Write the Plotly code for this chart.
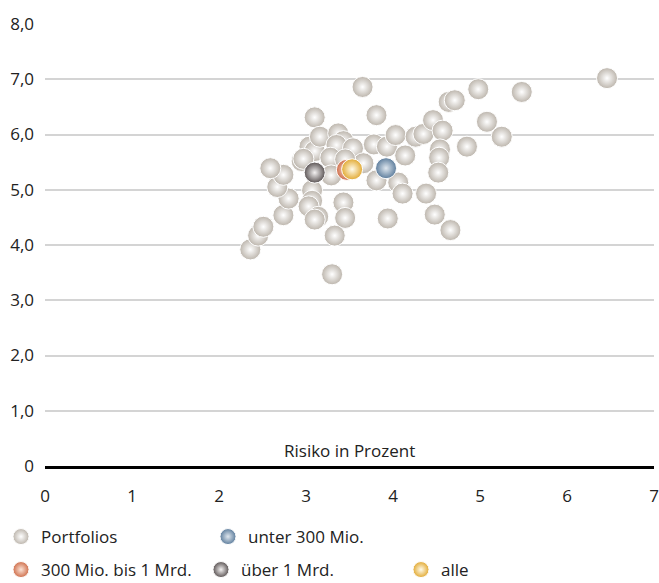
import plotly.graph_objects as go

# Portfolios: Risiko (x) vs. Rendite (y)
portfolio_x = [2.36, 2.45, 2.51, 2.74, 2.80, 2.67, 2.74, 2.59, 2.95, 3.04, 3.10, 3.10, 3.16, 3.37,
               3.43, 3.35, 3.54, 3.28, 3.29, 3.66, 3.65, 3.81, 3.78, 3.93, 4.03, 4.14, 4.26, 4.35,
               4.46, 4.57, 4.54, 4.53, 4.52, 4.64, 4.71, 4.98, 5.48, 6.46, 5.08, 5.25, 4.85, 3.81,
               4.06, 4.11, 4.38, 3.94, 4.48, 4.66, 3.07, 3.07, 3.03, 3.14, 3.10, 3.43, 3.45, 3.33,
               3.30, 3.45, 2.97]
portfolio_y = [3.92, 4.17, 4.33, 4.54, 4.84, 5.05, 5.27, 5.39, 5.52, 5.78, 5.70, 6.31, 5.96, 6.02,
               5.88, 5.81, 5.75, 5.58, 5.26, 5.48, 6.86, 6.35, 5.82, 5.78, 5.99, 5.62, 5.96, 6.01,
               6.26, 6.07, 5.73, 5.58, 5.31, 6.59, 6.62, 6.82, 6.77, 7.02, 6.23, 5.96, 5.78, 5.17,
               5.13, 4.93, 4.93, 4.48, 4.55, 4.27, 4.99, 4.80, 4.70, 4.51, 4.46, 4.77, 4.49, 4.17,
               3.47, 5.55, 5.56]

group_names = ["unter 300 Mio.", "300 Mio. bis 1 Mrd.", "über 1 Mrd.", "alle"]
group_x = [3.92, 3.47, 3.10, 3.53]
group_y = [5.39, 5.36, 5.31, 5.37]
group_edge = ["#5d7d9c", "#cf6f4c", "#5b5454", "#e2aa34"]
group_center = ["#dfe7ef", "#fbe3d6", "#f4f2f2", "#fffbea"]
group_legend = ["legend", "legend2", "legend2", "legend2"]

y_tickvals = [0, 1, 2, 3, 4, 5, 6, 7, 8]
y_ticktext = ["0", "1,0", "2,0", "3,0", "4,0", "5,0", "6,0", "7,0", "8,0"]
x_tickvals = [0, 1, 2, 3, 4, 5, 6, 7]
x_title = "Risiko in Prozent"

FONT = "Open Sans"
FS = 17
MSIZE = 21

fig = go.Figure()
fig.add_trace(go.Scatter(
    x=portfolio_x, y=portfolio_y, mode="markers", name="Portfolios",
    legend="legend",
    marker=dict(size=MSIZE, color="#bcb5ac",
                gradient=dict(type="radial", color="#ffffff"),
                line=dict(color="#ffffff", width=1)),
    cliponaxis=False,
))
for i, nm in enumerate(group_names):
    fig.add_trace(go.Scatter(
        x=[group_x[i]], y=[group_y[i]], mode="markers", name=nm,
        legend=group_legend[i],
        marker=dict(size=MSIZE, color=group_edge[i],
                    gradient=dict(type="radial", color=group_center[i]),
                    line=dict(color="#ffffff", width=1)),
        cliponaxis=False,
    ))

fig.add_annotation(x=0.5, xref="paper", y=0, yref="y", text=x_title,
                   showarrow=False, yanchor="bottom", yshift=2,
                   font=dict(family=FONT, size=FS, color="#222222"))

fig.update_layout(
    width=659, height=583,
    margin=dict(l=45, r=5, t=24, b=117, autoexpand=False),
    paper_bgcolor="white", plot_bgcolor="white",
    font=dict(family=FONT, size=FS, color="#222222"),
    xaxis=dict(range=[0, 7], tickvals=x_tickvals, showgrid=False, zeroline=False,
               showline=True, linecolor="#000000", linewidth=3,
               ticks="", ticklabelstandoff=13, tickfont=dict(size=FS), automargin=False),
    yaxis=dict(range=[0, 8], tickvals=y_tickvals, ticktext=y_ticktext,
               showgrid=True, gridcolor="#d4d4d4", gridwidth=1.5, zeroline=False,
               ticks="", ticklabelstandoff=10, tickfont=dict(size=FS), automargin=False),
    legend=dict(orientation="h", xref="container", yref="container",
                x=0.0015, xanchor="left", y=0.0789, yanchor="middle",
                entrywidth=162, entrywidthmode="pixels", font=dict(size=FS),
                itemclick=False, bgcolor="rgba(0,0,0,0)"),
    legend2=dict(orientation="h", xref="container", yref="container",
                 x=0.0015, xanchor="left", y=0.0223, yanchor="middle",
                 entrywidth=155, entrywidthmode="pixels", font=dict(size=FS),
                 itemclick=False, bgcolor="rgba(0,0,0,0)"),
    showlegend=True,
)

fig.write_html("out.html", config={"displayModeBar": False},
               post_script="document.body.style.margin='0';document.body.style.overflow='hidden';")
